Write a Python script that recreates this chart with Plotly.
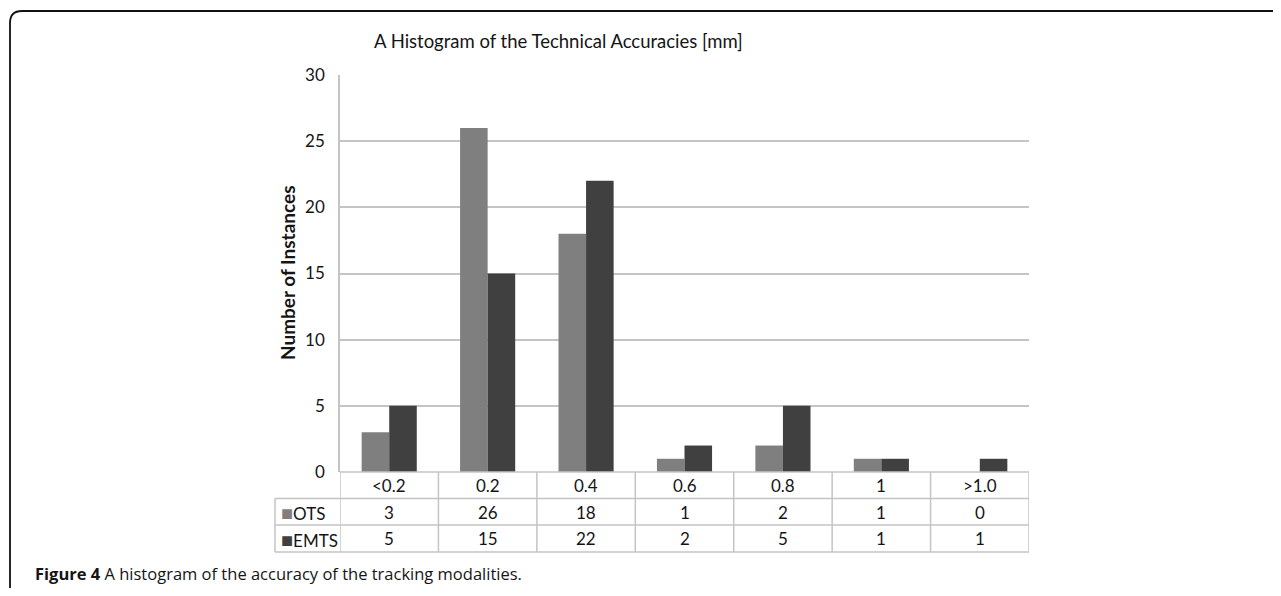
import plotly.graph_objects as go

categories = ["<0.2", "0.2", "0.4", "0.6", "0.8", "1", ">1.0"]
ots = [3, 26, 18, 1, 2, 1, 0]
emts = [5, 15, 22, 2, 5, 1, 1]
series_names = ["OTS", "EMTS"]
series_colors = ["#7f7f7f", "#404040"]
y_ticks = [0, 5, 10, 15, 20, 25, 30]

OFF = 8  # default body margin of the html page
W, H = 1281 - 2 * OFF, 596 - 2 * OFF
L, R, T, B = 340, 1029, 75, 472  # plot area in reference pixel coords
pw, ph = R - L, B - T

def px(x):
    return (x - L) / pw

def py(y):
    return (B - y) / ph

FONT = "Lato"
CAP_FONT = "Open Sans"
TXT = "#151515"
fig = go.Figure()
for name, vals, col in zip(series_names, [ots, emts], series_colors):
    fig.add_trace(go.Bar(x=categories, y=vals, name=name, marker=dict(color=col, line=dict(width=0))))

shapes = []
grid = "#c4c4c4"
row_y = [472, 498.5, 525, 552]
n = len(categories)
for i, yy in enumerate(row_y):
    shapes.append(dict(type="line", xref="paper", yref="paper",
                       x0=px(L) if i == 0 else px(275), x1=1, y0=py(yy), y1=py(yy),
                       line=dict(color=grid, width=1.5)))
for k in range(n + 1):
    shapes.append(dict(type="line", xref="x", yref="paper", x0=k - 0.5, x1=k - 0.5,
                       y0=py(472), y1=py(552), line=dict(color=grid, width=1.5)))
shapes.append(dict(type="line", xref="paper", yref="paper", x0=px(275), x1=px(275),
                   y0=py(498.5), y1=py(552), line=dict(color=grid, width=1.5)))
# outer frame with rounded corner
x0f, y0f = px(10), py(11)
xr, yb = px(1320), py(640)
rx, ry = 12 / pw, 12 / ph
shapes.append(dict(type="path", xref="paper", yref="paper",
                   path=f"M {x0f},{yb} L {x0f},{y0f - ry} Q {x0f},{y0f} {x0f + rx},{y0f} L {xr},{y0f}",
                   line=dict(color="#111111", width=1.8)))

ann = []
fs = 17

def add(x, y, text, xref="paper", size=fs, family=FONT, xanchor="center", **kw):
    ann.append(dict(x=x, y=y, xref=xref, yref="paper", text=text, showarrow=False,
                    xanchor=xanchor, yanchor="middle",
                    font=dict(size=size, color=TXT, family=family), **kw))

for i, c in enumerate(categories):
    add(i, py(485.5), c.replace("<", "&lt;").replace(">", "&gt;"), xref="x")
    add(i, py(512), str(ots[i]), xref="x")
    add(i, py(538.5), str(emts[i]), xref="x")
for name, col, yy in zip(series_names, series_colors, [512, 538.5]):
    add(px(279), py(yy), f"<span style='color:{col};font-size:20px'>■</span>{name}", xanchor="left")
add(px(558), py(41), "A Histogram of the Technical Accuracies [mm]", size=18.5)
add(px(287), py(273), "<b>Number of Instances</b>", size=19, textangle=-90)
add(px(33), py(573), "<b>Figure 4</b> A histogram of the accuracy of the tracking modalities.",
    size=16.5, family=CAP_FONT, xanchor="left")

fig.update_layout(
    width=W, height=H, margin=dict(l=L - OFF, r=W - (R - OFF), t=T - OFF, b=H - (B - OFF)),
    paper_bgcolor="white", plot_bgcolor="white",
    barmode="group", bargap=0.44, bargroupgap=0,
    showlegend=False, shapes=shapes, annotations=ann,
    font=dict(family=FONT, color=TXT),
)
fig.update_xaxes(showticklabels=False, showgrid=False, showline=False, zeroline=False,
                 range=[-0.5, n - 0.5], fixedrange=True)
fig.update_yaxes(range=[0, 30], tickvals=y_ticks, showgrid=True, gridcolor=grid, gridwidth=1.5,
                 showline=True, linecolor=grid, linewidth=1.5, zeroline=False,
                 ticks="outside", ticklen=10, tickcolor="rgba(0,0,0,0)",
                 tickfont=dict(size=fs, color=TXT, family=FONT))
fig.write_html("out.html")
